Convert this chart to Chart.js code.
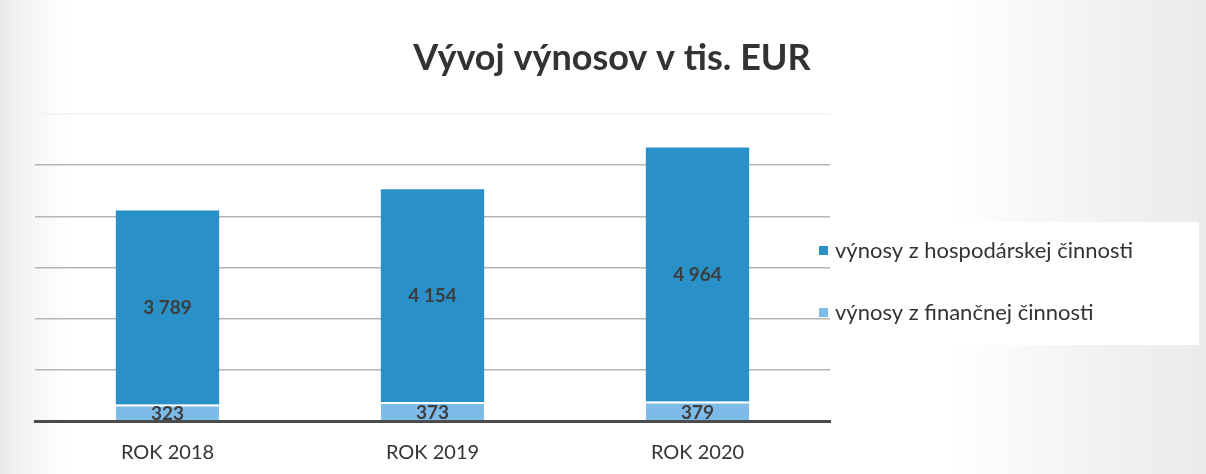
<!DOCTYPE html>
<html>
<head>
<meta charset="utf-8">
<script src="https://cdn.jsdelivr.net/npm/chart.js@4.4.1/dist/chart.umd.min.js"></script>
<style>
  html, body { margin: 0; padding: 0; }
  body {
    width: 1206px; height: 474px; overflow: hidden; position: relative;
    background: linear-gradient(90deg, #e8eaeb 0px, #f3f4f5 25px, #ffffff 70px, #ffffff 950px, #f0f1f2 1110px, #e9ebec 1206px);
  }
  #legendbg { position: absolute; left: 800px; top: 222px; width: 399px; height: 123px; background: #ffffff; }
  #wrap { position: absolute; left: 0; top: 0; width: 1206px; height: 474px; }
</style>
</head>
<body>
<div id="legendbg"></div>
<div id="wrap"><canvas id="c" width="1206" height="474"></canvas></div>
<script>
const categories = ['ROK 2018', 'ROK 2019', 'ROK 2020'];
const seriesNames = ['výnosy z hospodárskej činnosti', 'výnosy z finančnej činnosti'];
const hospodarska = [3789, 4154, 4964];
const financna = [323, 373, 379];
const titleText = 'Vývoj výnosov v tis. EUR';
const colors = ['#2a91c8', '#7dbbe8'];

const FONT = 'Lato, "Open Sans", sans-serif';
const fmt = v => String(v).replace(/\B(?=(\d{3})+(?!\d))/g, ' ');

const labelPlugin = {
  id: 'barLabels',
  afterDatasetsDraw(chart) {
    const ctx = chart.ctx;
    ctx.save();
    ctx.font = 'bold 19px ' + FONT;
    ctx.fillStyle = '#3d3d3d';
    ctx.textAlign = 'center';
    ctx.textBaseline = 'middle';
    chart.data.datasets.forEach((ds, di) => {
      const meta = chart.getDatasetMeta(di);
      meta.data.forEach((bar, i) => {
        const p = bar.getProps(['x', 'y', 'base'], true);
        const small = (p.base - p.y) < 30;
        const yc = (p.y + p.base) / 2 + (small ? 2 : 0);
        ctx.fillText(fmt(ds.data[i]), p.x, yc);
      });
    });
    ctx.restore();
  }
};

// Title centred on the whole picture
const pageTitle = {
  id: 'pageTitle',
  afterDraw(chart) {
    const ctx = chart.ctx;
    ctx.save();
    ctx.font = 'bold 36px ' + FONT;
    ctx.fillStyle = '#333333';
    ctx.textAlign = 'center';
    ctx.textBaseline = 'middle';
    ctx.fillText(titleText, chart.width / 2 + 9, 58);
    ctx.restore();
  }
};

// Legend drawn beside the plot, in the order of seriesNames
const sideLegend = {
  id: 'sideLegend',
  afterDraw(chart) {
    const ctx = chart.ctx;
    const a = chart.chartArea;
    const x0 = a.right - 11;
    const yMid = (a.top + a.bottom) / 2 + 14;
    const gap = 62;
    ctx.save();
    ctx.font = '22px ' + FONT;
    ctx.textBaseline = 'middle';
    ctx.textAlign = 'left';
    seriesNames.forEach((name, k) => {
      const ds = chart.data.datasets.find(d => d.label === name);
      const y = yMid + (k - 0.5) * gap;
      ctx.fillStyle = ds.backgroundColor;
      ctx.fillRect(x0, y - 4.5, 9, 9);
      ctx.fillStyle = '#333333';
      ctx.fillText(name, x0 + 16, y);
    });
    ctx.restore();
  }
};

new Chart(document.getElementById('c'), {
  type: 'bar',
  data: {
    labels: categories,
    datasets: [
      { label: seriesNames[1], data: financna, backgroundColor: colors[1],
        borderColor: '#ffffff', borderWidth: { top: 2, bottom: 0, left: 0, right: 0 }, borderSkipped: 'bottom' },
      { label: seriesNames[0], data: hospodarska, backgroundColor: colors[0], borderWidth: 0 }
    ]
  },
  options: {
    responsive: false,
    animation: false,
    devicePixelRatio: 1,
    layout: { padding: { left: 35, right: 376, top: 114, bottom: -11 } },
    datasets: { bar: { categoryPercentage: 0.78, barPercentage: 0.5 } },
    scales: {
      x: {
        stacked: true,
        grid: { display: false, drawTicks: false },
        border: { display: true, color: '#4a4a4a', width: 3 },
        ticks: { color: '#333333', font: { family: FONT, size: 20 }, padding: 20, maxRotation: 0 }
      },
      y: {
        stacked: true,
        min: 0, max: 6000,
        ticks: { display: false, stepSize: 1000 },
        border: { display: false },
        grid: {
          color: ctx => ctx.tick && ctx.tick.value === 6000 ? '#f2f2f2' : (ctx.tick && ctx.tick.value === 0 ? 'rgba(0,0,0,0)' : '#b5b5b5'),
          lineWidth: 1.5,
          drawTicks: false
        }
      }
    },
    plugins: {
      title: { display: false },
      legend: { display: false },
      tooltip: { enabled: false }
    }
  },
  plugins: [labelPlugin, sideLegend, pageTitle]
});
</script>
</body>
</html>
